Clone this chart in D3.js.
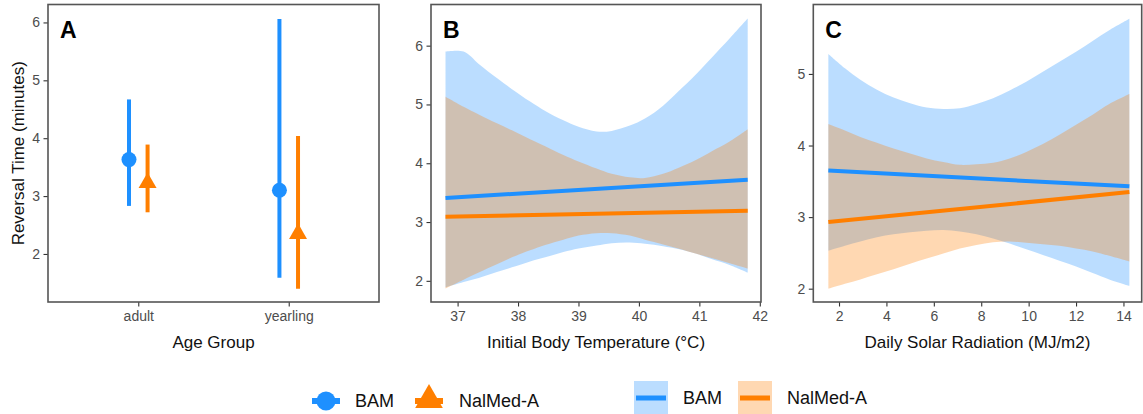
<!DOCTYPE html>
<html>
<head>
<meta charset="utf-8">
<script src="https://cdn.jsdelivr.net/npm/d3@7"></script>
<style>
  body { margin: 0; background: #fff; }
  text { font-family: "Liberation Sans", Arial, sans-serif; }
</style>
</head>
<body>
<div id="chart"></div>
<script>
// Panel A: estimate and 95% CI per age group
var ageGroups = ["adult", "yearling"];
var bamEst = [3.63, 3.10];
var bamLo  = [2.83, 1.59];
var bamHi  = [4.67, 6.06];
var nalEst = [3.23, 2.35];
var nalLo  = [2.72, 1.40];
var nalHi  = [3.89, 4.04];

// Panel B: initial body temperature
var tempX   = [36.8, 37.1, 37.35, 37.65, 37.9, 38.2, 38.45, 38.75, 39.0, 39.3, 39.55, 39.85, 40.1, 40.4, 40.65, 40.95, 41.2, 41.5, 41.8];
var bamHiB  = [5.90, 5.90, 5.69, 5.45, 5.26, 5.05, 4.89, 4.73, 4.62, 4.54, 4.55, 4.64, 4.76, 4.98, 5.22, 5.52, 5.79, 6.12, 6.46];
var bamLoB  = [1.89, 1.98, 2.05, 2.15, 2.23, 2.33, 2.40, 2.49, 2.55, 2.60, 2.64, 2.65, 2.63, 2.59, 2.54, 2.46, 2.37, 2.27, 2.14];
var nalHiB  = [5.13, 4.96, 4.83, 4.68, 4.56, 4.41, 4.29, 4.14, 4.03, 3.91, 3.82, 3.76, 3.75, 3.82, 3.92, 4.06, 4.20, 4.37, 4.58];
var nalLoB  = [1.87, 2.02, 2.14, 2.28, 2.40, 2.52, 2.61, 2.70, 2.77, 2.81, 2.81, 2.77, 2.70, 2.62, 2.55, 2.46, 2.39, 2.30, 2.21];
var tempFitX = [36.8, 41.8];
var bamFitB  = [3.41, 3.72];
var nalFitB  = [3.09, 3.19];

// Panel C: daily solar radiation
var solarX  = [1.55, 2.25, 2.9, 3.6, 4.3, 5.0, 5.7, 6.4, 7.1, 7.8, 8.5, 9.2, 9.9, 10.6, 11.3, 12.0, 12.7, 13.4, 14.25];
var bamHiC  = [5.28, 5.08, 4.92, 4.78, 4.67, 4.59, 4.53, 4.51, 4.52, 4.58, 4.66, 4.77, 4.89, 5.03, 5.17, 5.31, 5.46, 5.61, 5.77];
var bamLoC  = [2.53, 2.60, 2.66, 2.72, 2.76, 2.79, 2.81, 2.82, 2.80, 2.76, 2.70, 2.63, 2.55, 2.47, 2.39, 2.31, 2.22, 2.13, 2.04];
var nalHiC  = [4.30, 4.21, 4.12, 4.04, 3.96, 3.89, 3.82, 3.77, 3.73, 3.74, 3.76, 3.82, 3.91, 4.02, 4.15, 4.29, 4.43, 4.58, 4.72];
var nalLoC  = [2.00, 2.07, 2.13, 2.20, 2.27, 2.35, 2.42, 2.49, 2.56, 2.61, 2.65, 2.66, 2.64, 2.62, 2.60, 2.56, 2.52, 2.46, 2.38];
var solarFitX = [1.55, 14.25];
var bamFitC   = [3.65, 3.43];
var nalFitC   = [2.93, 3.35];

var ticksA = [2, 3, 4, 5, 6];
var ticksBy = [2, 3, 4, 5, 6];
var ticksBx = [37, 38, 39, 40, 41, 42];
var ticksCy = [2, 3, 4, 5];
var ticksCx = [2, 4, 6, 8, 10, 12, 14];

var blue = "#1E90FF", orange = "#FF7F00";
var width = 1143, height = 414;
var plotTop = 4.5, plotBottom = 302;

var svg = d3.select("#chart").append("svg")
    .attr("width", width)
    .attr("height", height);

function styleAxis(g) {
  g.select(".domain").remove();
  g.selectAll(".tick line").attr("stroke", "#333").attr("stroke-width", 1.1);
  g.selectAll(".tick text").attr("fill", "#4D4D4D").style("font-size", "14px");
}

function frame(x0, x1, xScale, yScale, xTicks, yTicks, xTitle, letter, xFormat) {
  svg.append("g")
      .attr("transform", "translate(0," + plotBottom + ")")
      .call(d3.axisBottom(xScale).tickValues(xTicks).tickSize(4.5).tickPadding(5).tickFormat(xFormat))
      .call(styleAxis);
  svg.append("g")
      .attr("transform", "translate(" + x0 + ",0)")
      .call(d3.axisLeft(yScale).tickValues(yTicks).tickSize(4.5).tickPadding(3.5).tickFormat(d3.format("d")))
      .call(styleAxis);
  svg.append("rect")
      .attr("x", x0).attr("y", plotTop)
      .attr("width", x1 - x0).attr("height", plotBottom - plotTop)
      .attr("fill", "none").attr("stroke", "#555").attr("stroke-width", 1.6);
  svg.append("text")
      .attr("x", (x0 + x1) / 2).attr("y", 348)
      .attr("text-anchor", "middle")
      .style("font-size", "17px").attr("fill", "#111")
      .text(xTitle);
  svg.append("text")
      .attr("x", x0 + 12).attr("y", 38)
      .style("font-size", "23px").style("font-weight", "bold")
      .text(letter);
}

// ---- Panel A ----
var xA = d3.scalePoint().domain(ageGroups).range([48, 379]).padding(0.6);
var yA = d3.scaleLinear().domain([1.17, 6.31]).range([plotBottom, plotTop]);
var dodge = 9.3;

var gA = svg.append("g");
var rowsA = ageGroups.map(function(a, i) {
  return { g: a, be: bamEst[i], bl: bamLo[i], bh: bamHi[i], ne: nalEst[i], nl: nalLo[i], nh: nalHi[i] };
});

gA.selectAll(".bamci").data(rowsA).enter().append("line")
    .attr("x1", d => xA(d.g) - dodge).attr("x2", d => xA(d.g) - dodge)
    .attr("y1", d => yA(d.bl)).attr("y2", d => yA(d.bh))
    .attr("stroke", blue).attr("stroke-width", 4);
gA.selectAll(".bampt").data(rowsA).enter().append("circle")
    .attr("cx", d => xA(d.g) - dodge).attr("cy", d => yA(d.be))
    .attr("r", 7.5).attr("fill", blue);
gA.selectAll(".nalci").data(rowsA).enter().append("line")
    .attr("x1", d => xA(d.g) + dodge).attr("x2", d => xA(d.g) + dodge)
    .attr("y1", d => yA(d.nl)).attr("y2", d => yA(d.nh))
    .attr("stroke", orange).attr("stroke-width", 4);
gA.selectAll(".nalpt").data(rowsA).enter().append("path")
    .attr("d", d3.symbol().type(d3.symbolTriangle).size(140))
    .attr("transform", d => "translate(" + (xA(d.g) + dodge) + "," + yA(d.ne) + ")")
    .attr("fill", orange);

frame(48, 379, xA, yA, ageGroups, ticksA, "Age Group", "A", null);

svg.append("text")
    .attr("transform", "translate(24," + ((plotTop + plotBottom) / 2) + ") rotate(-90)")
    .attr("text-anchor", "middle")
    .style("font-size", "17px").attr("fill", "#111")
    .text("Reversal Time (minutes)");

// ---- Panels B and C: ribbons + fitted lines ----
function ribbonPanel(xs, lo1, hi1, lo2, hi2, fitX, fit1, fit2, xScale, yScale) {
  var area = function(lo, hi) {
    return d3.area()
        .x((d, i) => xScale(xs[i]))
        .y0((d, i) => yScale(lo[i]))
        .y1((d, i) => yScale(hi[i]))
        .curve(d3.curveCatmullRom.alpha(0.5))(xs);
  };
  var line = d3.line()
      .x((d, i) => xScale(fitX[i]))
      .y(d => yScale(d));
  svg.append("path").attr("d", area(lo1, hi1)).attr("fill", blue).attr("fill-opacity", 0.3);
  svg.append("path").attr("d", area(lo2, hi2)).attr("fill", orange).attr("fill-opacity", 0.3);
  svg.append("path").attr("d", line(fit1)).attr("fill", "none").attr("stroke", blue).attr("stroke-width", 4);
  svg.append("path").attr("d", line(fit2)).attr("fill", "none").attr("stroke", orange).attr("stroke-width", 4);
}

var xB = d3.scaleLinear().domain([36.56, 42.02]).range([431, 761]);
var yB = d3.scaleLinear().domain([1.64, 6.70]).range([plotBottom, plotTop]);
ribbonPanel(tempX, bamLoB, bamHiB, nalLoB, nalHiB, tempFitX, bamFitB, nalFitB, xB, yB);
frame(431, 761, xB, yB, ticksBx, ticksBy, "Initial Body Temperature (\u00B0C)", "B", d3.format("d"));

var xC = d3.scaleLinear().domain([0.915, 14.77]).range([813.3, 1141.7]);
var yC = d3.scaleLinear().domain([1.814, 5.97]).range([plotBottom, plotTop]);
ribbonPanel(solarX, bamLoC, bamHiC, nalLoC, nalHiC, solarFitX, bamFitC, nalFitC, xC, yC);
frame(813.3, 1141.7, xC, yC, ticksCx, ticksCy, "Daily Solar Radiation (MJ/m2)", "C", d3.format("d"));

// ---- Legends ----
var legY = 401;
var leg1 = svg.append("g");
leg1.append("line").attr("x1", 312).attr("x2", 340).attr("y1", legY).attr("y2", legY)
    .attr("stroke", blue).attr("stroke-width", 6);
leg1.append("circle").attr("cx", 326).attr("cy", legY).attr("r", 9.5).attr("fill", blue);
leg1.append("text").attr("x", 355).attr("y", legY).attr("dy", "0.35em")
    .style("font-size", "18px").attr("fill", "#111").text("BAM");
leg1.append("line").attr("x1", 415).attr("x2", 443).attr("y1", legY).attr("y2", legY)
    .attr("stroke", orange).attr("stroke-width", 6);
leg1.append("path").attr("d", d3.symbol().type(d3.symbolTriangle).size(330))
    .attr("transform", "translate(429," + (legY - 1) + ")").attr("fill", orange);
leg1.append("text").attr("x", 459).attr("y", legY).attr("dy", "0.35em")
    .style("font-size", "18px").attr("fill", "#111").text("NalMed-A");

var leg2 = svg.append("g");
[[634, blue, "BAM", 683], [738, orange, "NalMed-A", 787]].forEach(function(k) {
  leg2.append("rect").attr("x", k[0]).attr("y", 381).attr("width", 34).attr("height", 34)
      .attr("fill", k[1]).attr("fill-opacity", 0.3);
  leg2.append("line").attr("x1", k[0] + 2).attr("x2", k[0] + 32).attr("y1", 398).attr("y2", 398)
      .attr("stroke", k[1]).attr("stroke-width", 5);
  leg2.append("text").attr("x", k[3]).attr("y", 398).attr("dy", "0.35em")
      .style("font-size", "18px").attr("fill", "#111").text(k[2]);
});
</script>
</body>
</html>
